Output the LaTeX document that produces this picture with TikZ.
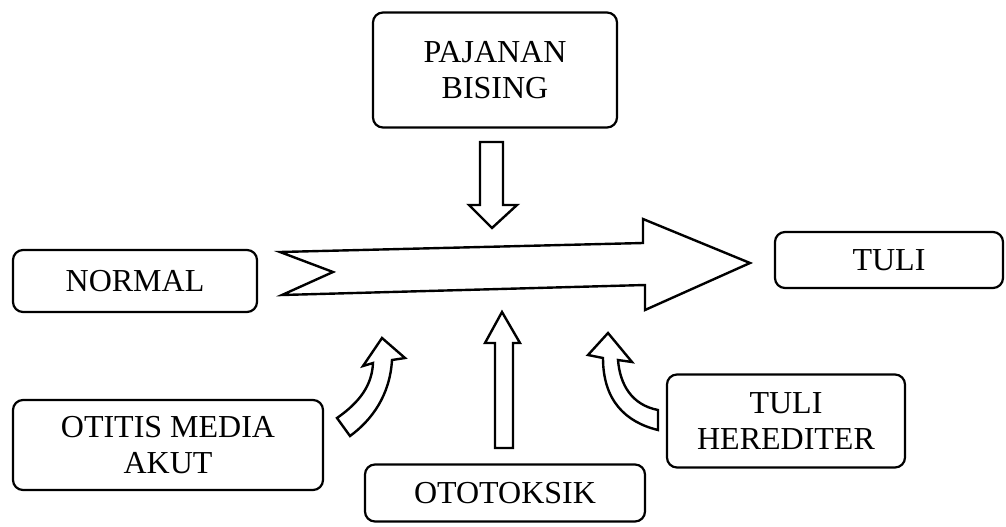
\documentclass[tikz,border=0pt]{standalone}
\usepackage{fontspec}
\setmainfont{Liberation Serif}
\begin{document}
\begin{tikzpicture}[x=1pt,y=-1pt,
  box/.style={draw=black,line width=2.2pt,rounded corners=10pt,align=center,
    inner sep=0pt,font=\fontsize{32}{36}\selectfont},
  blockarrow/.style={draw=black,line width=2.4pt,fill=white,line join=miter}]
\useasboundingbox (0,0) rectangle (1006,527);
% boxes
\node[box,minimum width=244pt,minimum height=115pt] (pajanan) at (495,70) {PAJANAN\\BISING};
\node[box,minimum width=244pt,minimum height=62pt] (normal) at (135,281) {NORMAL};
\node[box,minimum width=228pt,minimum height=56pt] (tuli) at (889,260) {TULI};
\node[box,minimum width=310pt,minimum height=90pt] (otitis) at (168,445) {OTITIS MEDIA\\AKUT};
\node[box,minimum width=280pt,minimum height=57pt] (ototoksik) at (505,493) {OTOTOKSIK};
\node[box,minimum width=238pt,minimum height=93pt] (herediter) at (786,421) {TULI\\HEREDITER};
% big arrow from NORMAL to TULI
\draw[blockarrow] (280,252) -- (643,243) -- (643,219) -- (750,263) -- (645,310)
  -- (645,285) -- (282,295) -- (333,272) -- cycle;
% down arrow from PAJANAN BISING
\draw[blockarrow] (480,142) -- (503,142) -- (503,205) -- (517,205) -- (492,228)
  -- (469,205) -- (480,205) -- cycle;
% up arrow from OTOTOKSIK
\draw[blockarrow] (495,448) -- (513,448) -- (513,343) -- (520,343) -- (502,312)
  -- (485,343) -- (495,343) -- cycle;
% curved arrow from OTITIS MEDIA AKUT
\draw[blockarrow] (337,418) .. controls (360,402) and (372,385) .. (373,363)
  -- (363,366) -- (382,338) -- (405,358) -- (392,360)
  .. controls (390,395) and (372,420) .. (350,436) -- cycle;
% curved arrow from TULI HEREDITER
\draw[blockarrow] (658,430) .. controls (625,422) and (603,400) .. (603,358)
  -- (588,355) -- (608,333) -- (632,362) -- (618,360)
  .. controls (620,385) and (632,405) .. (658,410) -- cycle;
\end{tikzpicture}
\end{document}
